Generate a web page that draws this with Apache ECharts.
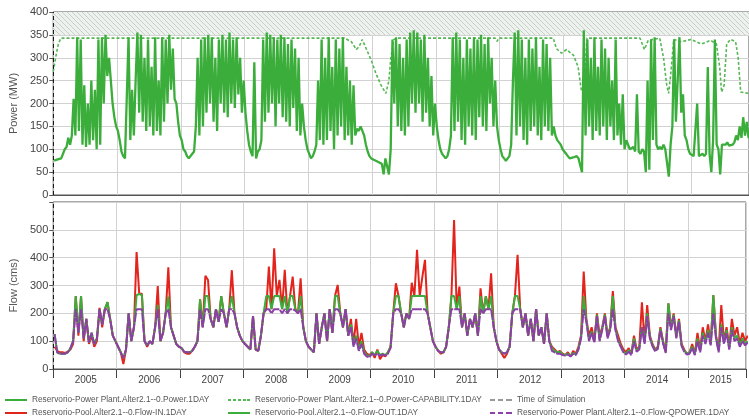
<!DOCTYPE html>
<html><head><meta charset="utf-8">
<script src="https://cdn.jsdelivr.net/npm/echarts@6/dist/echarts.min.js"></script>
<style>html,body{margin:0;padding:0;background:#fff}#c{width:749px;height:419px}</style>
</head><body><div id="c"></div>
<script>
// ---------------- DATA ----------------
const YEARS = [2005,2006,2007,2008,2009,2010,2011,2012,2013,2014,2015];
const X_MIN = 2005, X_MAX = 2015.91;
const powerTicks = [0,50,100,150,200,250,300,350,400];
const flowTicks = [0,100,200,300,400,500];
const POWER_PER_YEAR = 36;   // samples per year
const FLOW_PER_YEAR = 24;

// Power (MW), one row per year
const powerByYear = [
 [75,76,78,80,80,82,100,105,125,110,130,210,130,345,140,340,110,240,105,200,110,250,120,230,100,340,110,345,200,350,260,300,250,200,170,150],
 [140,120,95,85,80,82,345,120,230,130,250,355,180,350,160,300,140,340,150,280,130,345,140,250,130,345,160,340,200,350,230,320,210,200,160,130],
 [120,100,95,85,80,80,90,95,150,300,130,340,150,345,180,350,200,345,160,300,140,340,200,350,180,340,170,355,200,340,190,345,220,300,180,250],
 [180,140,110,95,85,290,80,95,100,120,340,160,355,180,350,200,345,150,340,200,350,170,345,160,330,150,340,190,320,140,300,130,200,150,120,100],
 [90,80,85,95,110,250,120,340,110,300,120,345,140,280,100,340,130,320,150,345,120,280,130,250,110,240,130,145,140,150,140,130,110,95,85,80],
 [78,76,74,72,70,68,45,80,78,45,100,340,200,345,150,330,140,300,130,340,150,355,200,360,180,355,200,340,160,350,180,300,150,260,130,200],
 [150,120,100,90,85,80,85,100,130,345,140,355,160,340,120,300,110,340,150,320,130,345,120,340,170,350,150,330,140,345,200,300,150,250,150,120],
 [100,85,80,75,78,85,110,250,355,130,360,150,340,120,300,110,340,140,320,150,345,130,280,120,340,150,330,140,300,130,150,130,120,115,110,100],
 [95,90,85,80,80,82,80,85,80,78,50,360,130,340,150,300,120,345,140,280,130,340,150,320,120,300,150,250,120,340,130,200,110,220,100,120],
 [110,100,100,105,95,220,95,90,100,95,50,250,55,340,120,345,110,100,105,100,110,100,100,40,110,150,340,160,250,345,180,220,130,120,100,90],
 [88,85,85,200,85,88,90,85,90,280,90,50,120,340,110,100,45,110,112,110,115,108,112,110,115,130,120,150,125,170,130,160,125,130]
];

// Power capability (MW): dates (decimal years) and values
const capDates = [2005.0,2005.05,2005.08,2005.12,2009.567,2009.675,2009.753,2009.799,2009.845,2009.907,2009.985,2010.062,2010.139,2010.216,2010.263,2010.294,2010.34,2010.402,2011.93,2011.96,2011.99,2012.84,2012.89,2012.97,2013.05,2013.16,2013.23,2013.28,2013.32,2013.37,2014.2,2014.27,2014.33,2014.51,2014.57,2014.62,2014.65,2014.68,2014.73,2014.85,2015.0,2015.16,2015.31,2015.4,2015.45,2015.48,2015.52,2015.56,2015.62,2015.7,2015.74,2015.78,2015.91];
const capValues = [270,310,330,343,343,335,318,325,340,320,295,265,240,222,250,300,340,343,343,336,343,343,320,310,318,305,280,230,228,343,343,318,338,343,300,240,222,260,340,335,340,330,338,330,280,225,240,330,340,335,300,225,222];

// Flow (cms), one row per year
const flowInByYear = [
 [80,65,60,60,58,62,70,90,262,120,262,100,180,90,120,80,100,220,150,215,240,180,120,100],
 [80,60,18,70,200,100,150,420,270,270,100,80,100,90,150,298,100,130,200,365,150,120,90,80],
 [75,60,55,55,65,80,100,250,150,335,320,180,150,215,170,262,200,150,215,355,200,150,120,100],
 [90,80,70,190,70,65,120,200,215,368,215,434,262,320,215,356,200,262,332,215,200,326,150,100],
 [80,70,60,200,90,150,200,100,215,130,262,302,200,150,215,120,180,90,180,80,130,70,55,50],
 [60,40,70,35,50,45,60,80,200,308,262,200,150,200,180,310,262,428,262,330,392,200,150,100],
 [80,65,55,60,80,150,262,535,215,296,150,200,120,180,150,200,120,290,200,262,215,344,150,100],
 [70,55,40,55,80,200,262,410,215,150,200,120,180,100,215,120,150,90,200,100,80,70,60,65],
 [55,50,60,45,65,55,80,120,350,180,120,150,100,200,120,150,200,120,150,280,150,120,90,70],
 [60,75,55,120,70,80,240,100,230,120,90,70,80,150,100,60,236,150,200,120,180,90,70,55],
 [60,90,55,130,70,150,100,160,90,266,120,70,230,100,150,80,180,120,150,90,130,100,120]
];
const flowOutByYear = [
 [125,60,55,55,55,60,75,100,262,130,262,110,180,95,130,90,110,215,160,215,240,180,120,100],
 [80,60,40,70,200,100,150,265,270,265,100,85,100,90,150,230,100,130,200,260,150,120,90,80],
 [75,62,60,60,65,80,100,250,150,262,262,180,150,215,170,262,200,150,215,262,200,150,120,100],
 [90,80,70,190,70,65,120,200,262,262,215,262,262,262,215,262,200,262,262,215,200,262,150,100],
 [80,70,60,200,90,150,200,100,215,130,262,262,200,150,215,120,160,85,120,70,100,60,50,45],
 [60,50,65,50,55,50,60,80,200,262,262,200,150,200,180,262,262,262,262,262,262,200,150,100],
 [80,65,60,60,80,150,262,262,215,262,150,200,120,180,150,200,120,262,200,262,215,262,150,100],
 [70,60,55,60,80,200,262,262,215,150,200,120,180,100,215,120,150,90,200,100,75,65,60,62],
 [52,50,55,48,58,52,72,115,262,175,105,135,98,195,105,145,195,115,145,262,145,105,82,62],
 [55,68,55,110,65,75,150,95,200,115,85,68,75,145,95,62,236,145,195,115,175,85,66,55],
 [60,80,55,110,65,130,95,140,90,266,115,65,160,95,140,75,150,110,120,85,110,90,100]
];
const flowQpowerByYear = [
 [125,60,55,55,55,60,75,100,215,130,215,110,180,95,130,90,110,215,160,215,215,180,120,100],
 [80,60,40,70,200,100,150,215,215,215,100,85,100,90,150,215,100,130,200,215,150,120,90,80],
 [75,62,60,60,65,80,100,215,150,215,215,180,150,215,170,215,200,150,215,215,200,150,120,100],
 [90,80,70,190,70,65,120,200,215,215,200,215,215,215,200,215,200,215,215,210,200,215,150,100],
 [80,70,60,200,90,150,200,100,215,130,215,215,200,150,215,120,150,80,110,65,90,55,45,42],
 [55,50,55,48,52,48,55,75,200,215,215,200,150,200,180,215,215,215,215,215,215,200,150,100],
 [80,65,60,60,80,150,215,215,215,215,150,200,120,180,150,200,120,215,200,215,215,215,150,100],
 [70,60,55,60,80,200,215,215,215,150,200,120,180,100,215,120,150,90,200,100,65,60,55,55],
 [50,48,52,45,55,50,70,110,215,170,100,130,95,190,100,140,190,110,140,215,140,100,80,60],
 [52,62,50,100,62,70,150,90,190,110,82,64,72,140,92,58,200,140,190,110,170,82,62,52],
 [55,75,50,100,60,120,90,130,85,200,110,60,150,90,130,70,140,100,110,80,100,85,95]
];
const simTime = 2005.003;

// ---------------- BUILD ----------------
function toPairs(byYear, n){
  const out=[];
  byYear.forEach((vals,k)=>{ const y=YEARS[k]; vals.forEach((v,i)=>out.push([y+(i+0.5)/n, v])); });
  return out;
}
const N_POWER='Reservorio-Power Plant.Alter2.1--0.Power.1DAY';
const N_CAP='Reservorio-Power Plant.Alter2.1--0.Power-CAPABILITY.1DAY';
const N_TIME='Time of Simulation';
const N_IN='Reservorio-Pool.Alter2.1--0.Flow-IN.1DAY';
const N_OUT='Reservorio-Pool.Alter2.1--0.Flow-OUT.1DAY';
const N_QP='Reservorio-Power Plant.Alter2.1--0.Flow-QPOWER.1DAY';

const pc=document.createElement('canvas'); pc.width=5; pc.height=5;
const g=pc.getContext('2d');
g.fillStyle='#eef2ee'; g.fillRect(0,0,5,5);
g.strokeStyle='#c6cec6'; g.lineWidth=1; g.beginPath();
g.moveTo(-1,-1); g.lineTo(6,6); g.moveTo(-1,4); g.lineTo(1,6); g.moveTo(4,-1); g.lineTo(6,1); g.stroke();

const FONT='"Liberation Sans", Arial, sans-serif';
const GREEN='#3aad3a', RED='#e3241d', PURPLE='#8c3fa6';
const ICON_SOLID='path://M0,0h22v2h-22z';
const ICON_DOT='path://M0,0h3v2h-3z M5,0h3v2h-3z M10,0h3v2h-3z M15,0h3v2h-3z M19,0h3v2h-3z';
const ICON_DASH='path://M0,0h5v2h-5z M8,0h5v2h-5z M16,0h6v2h-6z';

const chart=echarts.init(document.getElementById('c'),null,{renderer:'canvas'});
const xBase={type:'value',min:X_MIN,max:X_MAX,interval:1,
  axisLine:{lineStyle:{color:'#555'}},
  splitLine:{show:true,lineStyle:{color:'#d2d2d2'}}};
const yBase={type:'value',nameLocation:'middle',nameGap:29,
  nameTextStyle:{fontSize:11,color:'#555',fontFamily:FONT},
  axisLabel:{fontSize:11,color:'#444',margin:5,fontFamily:FONT},
  axisTick:{show:true,length:4,lineStyle:{color:'#555'}},
  axisLine:{show:true,lineStyle:{color:'#aaa'}},
  splitLine:{lineStyle:{color:'#d2d2d2'}}};
function leg(left, top, name, icon, color){
  return {orient:'horizontal',left:left,top:top,itemWidth:22,itemHeight:2,itemGap:4,selectedMode:false,padding:0,
    icon:icon,itemStyle:{color:color,borderWidth:0},
    textStyle:{fontSize:8.3,color:'#555',fontFamily:FONT},
    data:[name]};
}

chart.setOption({
  animation:false,
  backgroundColor:'#fff',
  textStyle:{fontFamily:FONT},
  grid:[{left:43,right:0,top:12,height:183,show:true,borderColor:'#555',borderWidth:1},
        {left:43,right:0,top:202,height:167,show:true,borderColor:'#555',borderWidth:1}],
  xAxis:[Object.assign({},xBase,{gridIndex:0,axisLabel:{show:false},axisTick:{show:false}}),
         Object.assign({},xBase,{gridIndex:1,
           axisLabel:{show:true,fontSize:10,color:'#444',margin:6,fontFamily:FONT,padding:[0,0,0,65],
             formatter:v=>Number.isInteger(v)&&YEARS.includes(v)?String(v):''},
           axisTick:{show:true,length:9,lineStyle:{color:'#444'}}})],
  yAxis:[Object.assign({},yBase,{gridIndex:0,min:powerTicks[0],max:powerTicks[powerTicks.length-1],interval:50,name:'Power (MW)'}),
         Object.assign({},yBase,{gridIndex:1,min:0,max:600,interval:100,name:'Flow (cms)',
           axisLabel:Object.assign({},yBase.axisLabel,{formatter:v=>flowTicks.includes(v)?String(v):''})})],
  legend:[leg(5,396,N_POWER,ICON_SOLID,GREEN), leg(5,409,N_IN,ICON_SOLID,RED),
          leg(228,396,N_CAP,ICON_DOT,'#55b855'), leg(228,409,N_OUT,ICON_SOLID,GREEN),
          leg(490,396,N_TIME,ICON_DASH,'#9a9a9a'), leg(490,409,N_QP,ICON_DASH,PURPLE)],
  series:[
    {name:N_CAP,type:'line',xAxisIndex:0,yAxisIndex:0,symbol:'none',z:2,
     data:capDates.map((d,i)=>[d,capValues[i]]),
     lineStyle:{color:'#55b855',width:1.6,type:[3,2]},itemStyle:{color:'#55b855'},
     markArea:{silent:true,itemStyle:{color:{image:pc,repeat:'repeat'}},data:[[{yAxis:350},{yAxis:400}]]}},
    {name:N_POWER,type:'line',xAxisIndex:0,yAxisIndex:0,symbol:'none',z:3,
     data:toPairs(powerByYear,POWER_PER_YEAR),
     lineStyle:{color:GREEN,width:2.3},itemStyle:{color:GREEN}},
    {name:N_TIME,type:'line',xAxisIndex:0,yAxisIndex:0,symbol:'none',z:5,
     data:[[simTime,0],[simTime,400]],lineStyle:{color:'#111',width:1,type:[4,3]},itemStyle:{color:'#111'}},
    {name:N_IN,type:'line',xAxisIndex:1,yAxisIndex:1,symbol:'none',z:2,
     data:toPairs(flowInByYear,FLOW_PER_YEAR),lineStyle:{color:RED,width:2},itemStyle:{color:RED}},
    {name:N_OUT,type:'line',xAxisIndex:1,yAxisIndex:1,symbol:'none',z:3,
     data:toPairs(flowOutByYear,FLOW_PER_YEAR),lineStyle:{color:GREEN,width:2},itemStyle:{color:GREEN}},
    {name:N_QP,type:'line',xAxisIndex:1,yAxisIndex:1,symbol:'none',z:4,
     data:toPairs(flowQpowerByYear,FLOW_PER_YEAR),lineStyle:{color:PURPLE,width:2,type:[10,1]},itemStyle:{color:PURPLE}},
    {name:N_TIME,type:'line',xAxisIndex:1,yAxisIndex:1,symbol:'none',z:5,
     data:[[simTime,0],[simTime,600]],lineStyle:{color:'#111',width:1,type:[4,3]},itemStyle:{color:'#111'}}
  ]
});
</script></body></html>
